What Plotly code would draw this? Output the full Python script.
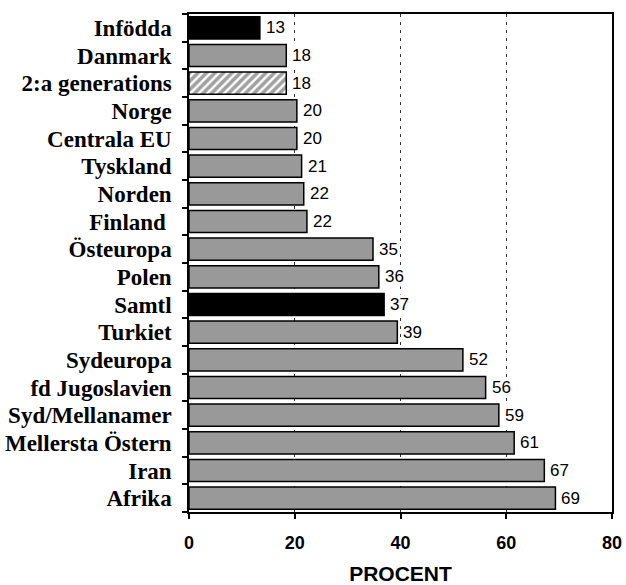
import plotly.graph_objects as go

categories = ["Infödda", "Danmark", "2:a generations", "Norge", "Centrala EU", "Tyskland",
              "Norden", "Finland", "Östeuropa", "Polen", "Samtl", "Turkiet", "Sydeuropa",
              "fd Jugoslavien", "Syd/Mellanamer", "Mellersta Östern", "Iran", "Afrika"]
tick_labels = ["Infödda", "Danmark", "2:a generations", "Norge", "Centrala EU", "Tyskland",
               "Norden", "Finland\u00a0", "Östeuropa", "Polen", "Samtl", "Turkiet", "Sydeuropa",
               "fd Jugoslavien", "Syd/Mellanamer", "Mellersta Östern", "Iran", "Afrika"]
values = [13.4, 18.4, 18.4, 20.4, 20.4, 21.3, 21.7, 22.3, 34.8, 35.9, 36.9, 39.4, 51.8,
          56.1, 58.6, 61.5, 67.2, 69.3]
labels = ["13", "18", "18", "20", "20", "21", "22", "22", "35", "36", "37", "39", "52",
          "56", "59", "61", "67", "69"]
x_ticks = [0, 20, 40, 60, 80]

GRAY = "#999999"
colors = ["black" if c in ("Infödda", "Samtl") else ("white" if c == "2:a generations" else GRAY)
          for c in categories]
patterns = ["/" if c == "2:a generations" else "" for c in categories]

fig = go.Figure()
fig.add_trace(go.Bar(
    x=values, y=categories, orientation="h",
    marker=dict(color=colors, line=dict(color="black", width=1.5),
                pattern=dict(shape=patterns, fgcolor="black", bgcolor="white",
                             size=6, solidity=0.6, fillmode="overlay")),
    width=0.8, hoverinfo="skip",
))

for c, v, t in zip(categories, values, labels):
    fig.add_annotation(x=v, y=c, text=t, showarrow=False, xanchor="left", xshift=5,
                       bgcolor="white", borderpad=0,
                       font=dict(family="Liberation Sans, Arial", size=17, color="black"))

fig.update_layout(
    width=626, height=585,
    margin=dict(l=189, r=14, t=14, b=73, autoexpand=False),
    paper_bgcolor="white", plot_bgcolor="white",
    showlegend=False,
    bargap=0.2,
)
fig.update_xaxes(
    range=[0, 80], tickvals=x_ticks, ticktext=[str(v) for v in x_ticks],
    automargin=False,
    showgrid=True, gridcolor="#333333", griddash="3px,5px", gridwidth=1,
    zeroline=False, showline=True, linecolor="black", linewidth=1.5, mirror=True,
    ticks="outside", ticklen=5, tickcolor="black", tickwidth=1.5,
    tickfont=dict(family="Liberation Sans, Arial", size=18, color="black", weight="bold"),
    ticklabelstandoff=9,
    title=dict(text="<b>PROCENT</b>", standoff=20,
               font=dict(family="Liberation Sans, Arial", size=21, color="black")),
)
fig.update_yaxes(
    autorange="reversed", type="category", automargin=False,
    tickvals=categories, ticktext=tick_labels,
    showgrid=False, showline=True, linecolor="black", linewidth=1.5, mirror=True,
    ticks="outside", ticklen=5, tickcolor="black", tickwidth=1.5, tickson="boundaries",
    tickfont=dict(family="Liberation Serif, Times New Roman", size=23, color="black", weight="bold"),
    ticklabelstandoff=11,
)

fig.write_html("out.html", config={"displayModeBar": False},
               post_script="document.body.style.margin='0';")
